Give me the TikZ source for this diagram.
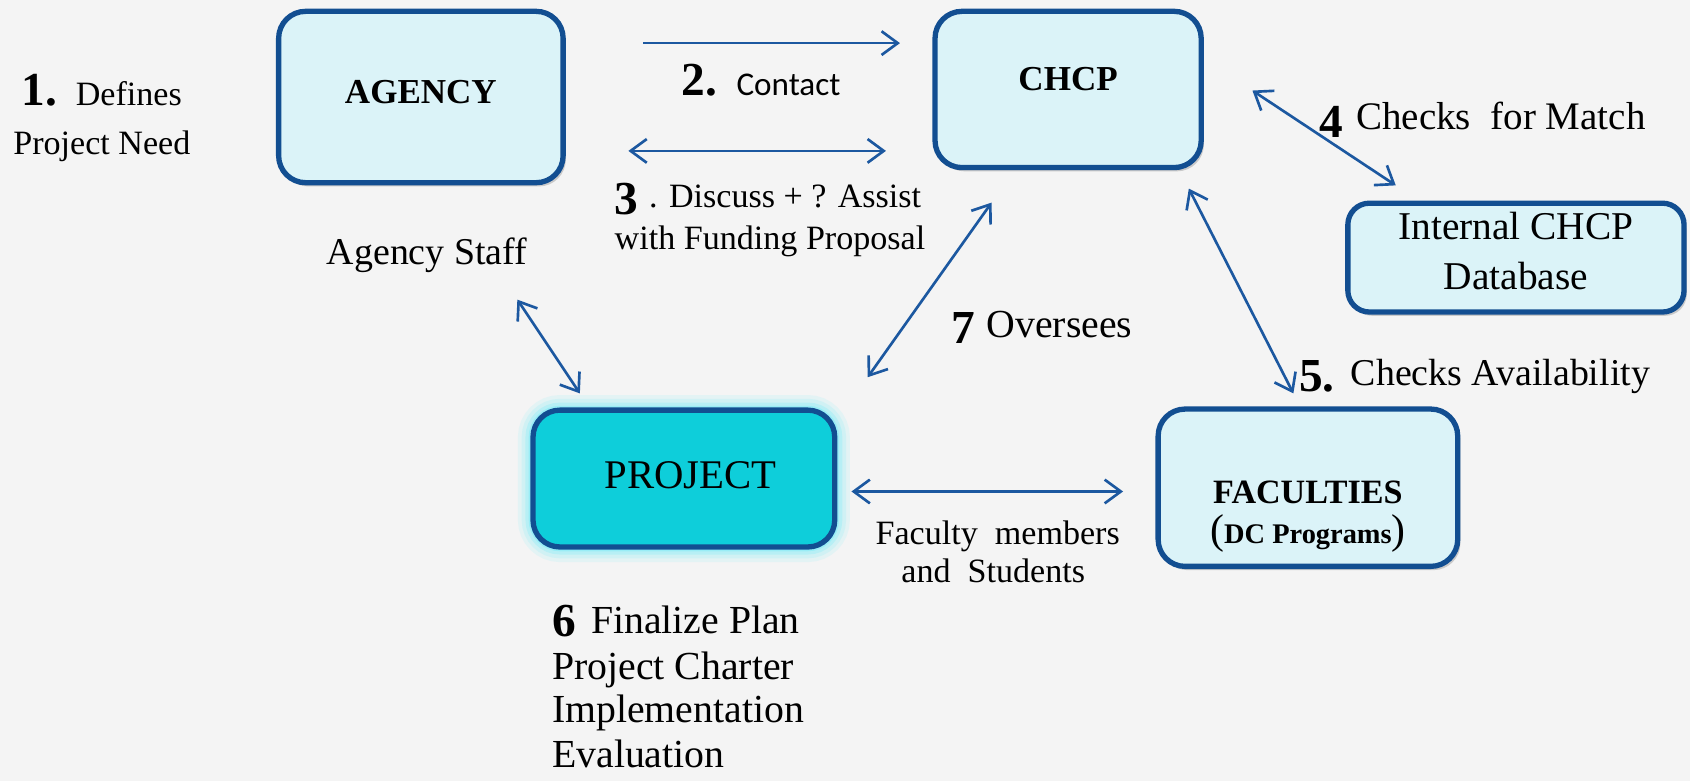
\documentclass[tikz,border=0pt]{standalone}
\usepackage{fontspec}
\setmainfont{Liberation Serif}
\newfontfamily\carlito{Carlito}
\usetikzlibrary{arrows.meta,shadows,calc}
\definecolor{bgc}{RGB}{244,244,244}
\definecolor{bordblue}{RGB}{18,78,145}
\definecolor{boxfill}{RGB}{219,243,248}
\definecolor{projfill}{RGB}{14,206,218}
\definecolor{glowc}{RGB}{110,236,248}
\definecolor{arrblue}{RGB}{28,88,160}
\begin{document}
\begin{tikzpicture}[x=0.02cm,y=-0.02cm,
  boxst/.style={draw=bordblue, line width=2.8pt, fill=boxfill, rounded corners=0.5cm, inner sep=0pt,
    drop shadow={shadow xshift=0.05cm, shadow yshift=-0.07cm, fill=black!60, opacity=0.3}},
  projst/.style={draw=bordblue, line width=2.8pt, fill=projfill, rounded corners=0.5cm, inner sep=0pt,
    preaction={draw=glowc, line width=0.56cm, draw opacity=0.12},
    preaction={draw=glowc, line width=0.42cm, draw opacity=0.16},
    preaction={draw=glowc, line width=0.28cm, draw opacity=0.25},
    preaction={draw=glowc, line width=0.16cm, draw opacity=0.4}},
  lbl/.style={inner sep=0pt},
  txt/.style={inner sep=0pt, anchor=base west, font=\fontsize{18}{22}\selectfont},
  numst/.style={inner sep=0pt, anchor=base west, font=\bfseries\fontsize{25}{28}\selectfont},
  arrst/.style={draw=arrblue, line width=1.4pt, -{Straight Barb[length=0.3cm,width=0.44cm]}},
  darrst/.style={draw=arrblue, line width=1.4pt, {Straight Barb[length=0.3cm,width=0.44cm]}-{Straight Barb[length=0.3cm,width=0.44cm]}}
]
\useasboundingbox (0,0) rectangle (1568,724.6);
\fill[bgc] (0,0) rectangle (1568,724.6);

% boxes
\node[boxst, minimum width=5.28cm, minimum height=3.18cm,
  label={[lbl, name=agencylbl, yshift=0.1cm, font=\bfseries\fontsize{18.5}{22}\selectfont]center:AGENCY}]
  (agency) at (390.5,90) {};
\node[boxst, minimum width=4.94cm, minimum height=2.90cm,
  label={[lbl, name=chcplbl, yshift=0.2cm, font=\bfseries\fontsize{18.5}{22}\selectfont]center:CHCP}]
  (chcp) at (991,83) {};
\node[boxst, rounded corners=0.4cm, minimum width=6.24cm, minimum height=2.02cm,
  label={[lbl, name=dblbl, align=center, yshift=0.12cm, font=\fontsize{20.8}{26}\selectfont]center:{Internal CHCP\\Database}}]
  (db) at (1406.5,239) {};
\node[boxst, minimum width=5.56cm, minimum height=2.92cm,
  label={[lbl, name=faclbl, align=center, yshift=-0.54cm, font=\fontsize{18}{21}\selectfont]center:{\bfseries FACULTIES\\{\fontsize{22}{21}\selectfont(}{\bfseries\fontsize{15}{21}\selectfont DC Programs}{\fontsize{22}{21}\selectfont)}}}]
  (fac) at (1213.5,452.5) {};
\node[projst, minimum width=5.60cm, minimum height=2.54cm,
  label={[lbl, name=projlbl, xshift=0.12cm, yshift=0.06cm, font=\fontsize{21.5}{24}\selectfont]center:PROJECT}]
  (proj) at (634.5,444) {};

% arrow end points
\coordinate (a2s) at (597,40);   \coordinate (a2e) at (835,40);
\coordinate (a3s) at (583,140);  \coordinate (a3e) at (822,140);
\coordinate (ass) at (480,278);  \coordinate (ase) at (538,365);
\coordinate (a7s) at (805,350);  \coordinate (a7e) at (920,188);
\coordinate (a4s) at (1162,84);  \coordinate (a4e) at (1295,172);
\coordinate (a5s) at (1103,175); \coordinate (a5e) at (1200,365);
\coordinate (afs) at (790,456);  \coordinate (afe) at (1042,456);

\draw[arrst] (a2s) -- (a2e);
\draw[darrst] (a3s) -- (a3e);
\draw[darrst] (ass) -- (ase);
\draw[darrst] (a7s) -- (a7e);
\draw[darrst] (a4s) -- (a4e);
\draw[darrst] (a5s) -- (a5e);
\draw[darrst] (afs) -- (afe);

% texts
\node[numst] (n1) at (20,98) {1.};
\node[txt] (n1b) at (70,98) {Defines};
\node[txt] (n1c) at (12,143) {Project Need};

\node[numst] (n2) at (632,89) {2.};
\node[txt, font=\carlito\fontsize{17.5}{21}\selectfont] (n2b) at (683,89) {Contact};

\node[inner sep=0pt, anchor=north west, align=left, font=\fontsize{18}{22.2}\selectfont] (n3) at (570,171.4)
  {\raisebox{-0.12cm}[0pt][0pt]{\bfseries\fontsize{25}{28}\selectfont 3}\hspace{0.2cm}. Discuss + ? Assist\\with Funding Proposal};

\node[txt, font=\fontsize{20}{24}\selectfont] (staff) at (303,245) {Agency Staff};

\node[numst] (n7) at (882,319) {7};
\node[txt, font=\fontsize{21}{24}\selectfont] (n7b) at (915,313) {Oversees};

\node[numst] (n4) at (1224,128) {4};
\node[txt, font=\fontsize{20.6}{24}\selectfont] (n4b) at (1258,120) {Checks\ \ for Match};

\node[numst] (n5) at (1205,363) {5.};
\node[txt, font=\fontsize{20}{24}\selectfont] (n5b) at (1253,358) {Checks Availability};

\node[txt] (fm1) at (812,505) {Faculty\ \ members};
\node[txt] (fm2) at (836,540) {and\ \ Students};

\node[numst] (n6) at (512,591) {6};
\node[txt, font=\fontsize{21}{24}\selectfont] (n6b) at (548,588) {Finalize Plan};
\node[txt, font=\fontsize{21}{24}\selectfont] (n6c) at (512,630) {Project Charter};
\node[txt, font=\fontsize{21}{24}\selectfont] (n6d) at (512,670) {Implementation};
\node[txt, font=\fontsize{21}{24}\selectfont] (n6e) at (512,712) {Evaluation};
\end{tikzpicture}
\end{document}
